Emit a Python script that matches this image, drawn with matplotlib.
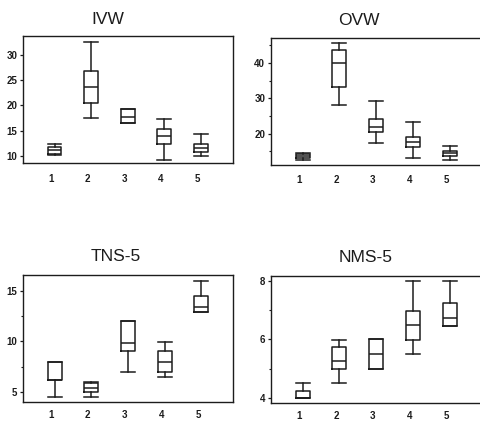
import matplotlib
matplotlib.use("Agg")
import matplotlib.pyplot as plt
import matplotlib.transforms as mtransforms
from matplotlib.ticker import MultipleLocator

plt.rcParams['font.family'] = ['Liberation Sans', 'DejaVu Sans']

groups = ["1", "2", "3", "4", "5"]

# IVW
ivw_whislo = [10.2, 17.45, 16.6, 9.2, 9.9]
ivw_q1 = [10.4, 20.55, 16.6, 12.3, 10.7]
ivw_med = [11.1, 23.6, 17.65, 13.95, 11.5]
ivw_q3 = [11.7, 26.8, 19.3, 15.35, 12.3]
ivw_whishi = [12.3, 32.6, 19.3, 17.4, 14.4]

# OVW
ovw_whislo = [12.6, 28.0, 17.45, 13.0, 12.5]
ovw_q1 = [13.0, 33.3, 20.5, 16.1, 13.7]
ovw_med = [13.6, 39.9, 21.8, 17.7, 14.5]
ovw_q3 = [14.2, 43.7, 24.1, 19.15, 15.2]
ovw_whishi = [14.6, 45.8, 29.1, 23.2, 16.5]

# TNS-5
tns_whislo = [4.5, 4.5, 7.0, 6.45, 12.9]
tns_q1 = [6.2, 5.0, 9.0, 7.0, 12.9]
tns_med = [6.2, 5.4, 9.8, 8.0, 13.4]
tns_q3 = [8.0, 5.85, 12.0, 9.0, 14.5]
tns_whishi = [8.0, 6.0, 12.0, 9.95, 16.0]

# NMS-5
nms_whislo = [4.0, 4.5, 5.0, 5.5, 6.47]
nms_q1 = [4.0, 4.98, 5.0, 5.98, 6.47]
nms_med = [4.0, 5.27, 5.5, 6.49, 6.74]
nms_q3 = [4.24, 5.75, 6.0, 6.98, 7.24]
nms_whishi = [4.49, 5.98, 6.0, 8.0, 8.0]

panels = [
    ("IVW", ivw_whislo, ivw_q1, ivw_med, ivw_q3, ivw_whishi,
     [0.0472, 0.613, 0.4366, 0.3017], (8.55, 33.76), 5, 5, 0.404, 19.5, 7.8),
    ("OVW", ovw_whislo, ovw_q1, ovw_med, ovw_q3, ovw_whishi,
     [0.5628, 0.609, 0.4387, 0.3002], (11.1, 47.0), 10, 5, 0.418, 20.5, 7.2),
    ("TNS-5", tns_whislo, tns_q1, tns_med, tns_q3, tns_whishi,
     [0.0472, 0.0481, 0.4380, 0.3002], (4.04, 16.55), 5, 2.5, 0.443, 256.7, 6.2),
    ("NMS-5", nms_whislo, nms_q1, nms_med, nms_q3, nms_whishi,
     [0.5628, 0.0457, 0.4387, 0.3003], (3.83, 8.17), 2, 1, 0.45, 257.7, 6.0),
]

fig = plt.figure(figsize=(4.81, 4.22), dpi=100)
lc = '#1c1c1c'
positions = list(range(1, len(groups) + 1))

for (title, wlo, q1, med, q3, whi, rect, ylim, major, minor, tx, ty, xpad) in panels:
    ax = fig.add_axes(rect)
    stats = []
    for i in range(len(groups)):
        stats.append(dict(whislo=wlo[i], q1=q1[i], med=med[i], q3=q3[i],
                          whishi=whi[i], label=groups[i]))
    ax.bxp(stats, positions=positions, widths=0.38, capwidths=0.38,
           showfliers=False,
           boxprops=dict(color=lc, linewidth=1.1),
           whiskerprops=dict(color=lc, linewidth=1.1),
           capprops=dict(color=lc, linewidth=1.1),
           medianprops=dict(color=lc, linewidth=1.1))
    ax.set_xlim(0.13, 5.87)
    ax.set_ylim(*ylim)
    ax.yaxis.set_major_locator(MultipleLocator(major))
    ax.yaxis.set_minor_locator(MultipleLocator(minor))
    ax.tick_params(axis='y', which='major', length=2.5, width=0.9, pad=1.5,
                   labelsize=7, colors=lc)
    ax.tick_params(axis='y', which='minor', length=1.5, width=0.8, colors=lc)
    ax.tick_params(axis='x', length=0, pad=xpad, labelsize=7, colors=lc)
    for lab in ax.get_yticklabels() + ax.get_xticklabels():
        lab.set_fontweight('bold')
    offset = mtransforms.ScaledTranslation(-3.5 / 100, 0, fig.dpi_scale_trans)
    for lab in ax.get_xticklabels():
        lab.set_transform(lab.get_transform() + offset)
    for sp in ax.spines.values():
        sp.set_color(lc)
        sp.set_linewidth(1.0)
    bbox = ax.get_position()
    fig.text(bbox.x0 + tx * bbox.width, 1 - ty / 422, title,
             ha='center', va='center', fontsize=12.5, color=lc)

fig.savefig("out.png", dpi=100)
